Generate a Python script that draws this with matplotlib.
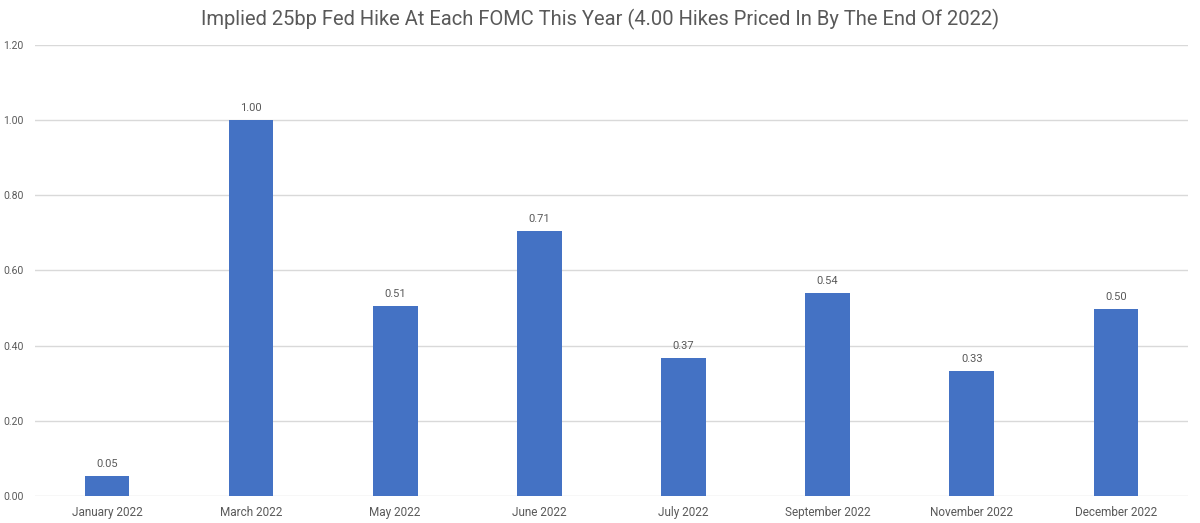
import matplotlib.pyplot as plt

months = ['January 2022', 'March 2022', 'May 2022', 'June 2022',
          'July 2022', 'September 2022', 'November 2022', 'December 2022']
hikes = [0.054, 1.00, 0.505, 0.706, 0.367, 0.540, 0.332, 0.497]
yticks = [0.0, 0.2, 0.4, 0.6, 0.8, 1.0, 1.2]

plt.rcParams['font.family'] = ['Roboto', 'DejaVu Sans']
text_color = '#595959'


def main():
    fig = plt.figure(figsize=(12, 5.23), dpi=100)
    ax = fig.add_axes([0.029, 0.0516, 0.961, 0.8624])

    x = range(len(months))
    bars = ax.bar(x, hikes, width=0.31, color='#4472C4', zorder=3)
    for b, v in zip(bars, hikes):
        ax.annotate('{:.2f}'.format(v), (b.get_x() + b.get_width() / 2, v),
                    xytext=(0, 5), textcoords='offset points',
                    ha='center', va='bottom', fontsize=8, color=text_color)

    ax.set_xlim(-0.5, len(months) - 0.5)
    ax.set_ylim(0, 1.2)
    ax.set_yticks(yticks)
    ax.set_yticklabels(['{:.2f}'.format(t) for t in yticks])
    ax.set_xticks(list(x))
    ax.set_xticklabels(months)
    ax.tick_params(axis='both', length=0, labelsize=8.5, colors=text_color)
    ax.tick_params(axis='y', pad=8, labelsize=7.5)
    ax.tick_params(axis='x', pad=7)
    ax.grid(axis='y', color='#D9D9D9', linewidth=1, zorder=0)
    for s in ax.spines.values():
        s.set_visible(False)

    fig.suptitle('Implied 25bp Fed Hike At Each FOMC This Year (4.00 Hikes Priced In By The End Of 2022)',
                 y=0.982, va='top', fontsize=14.5, color=text_color)

    fig.savefig('out.png', dpi=100)


if __name__ == '__main__':
    main()
